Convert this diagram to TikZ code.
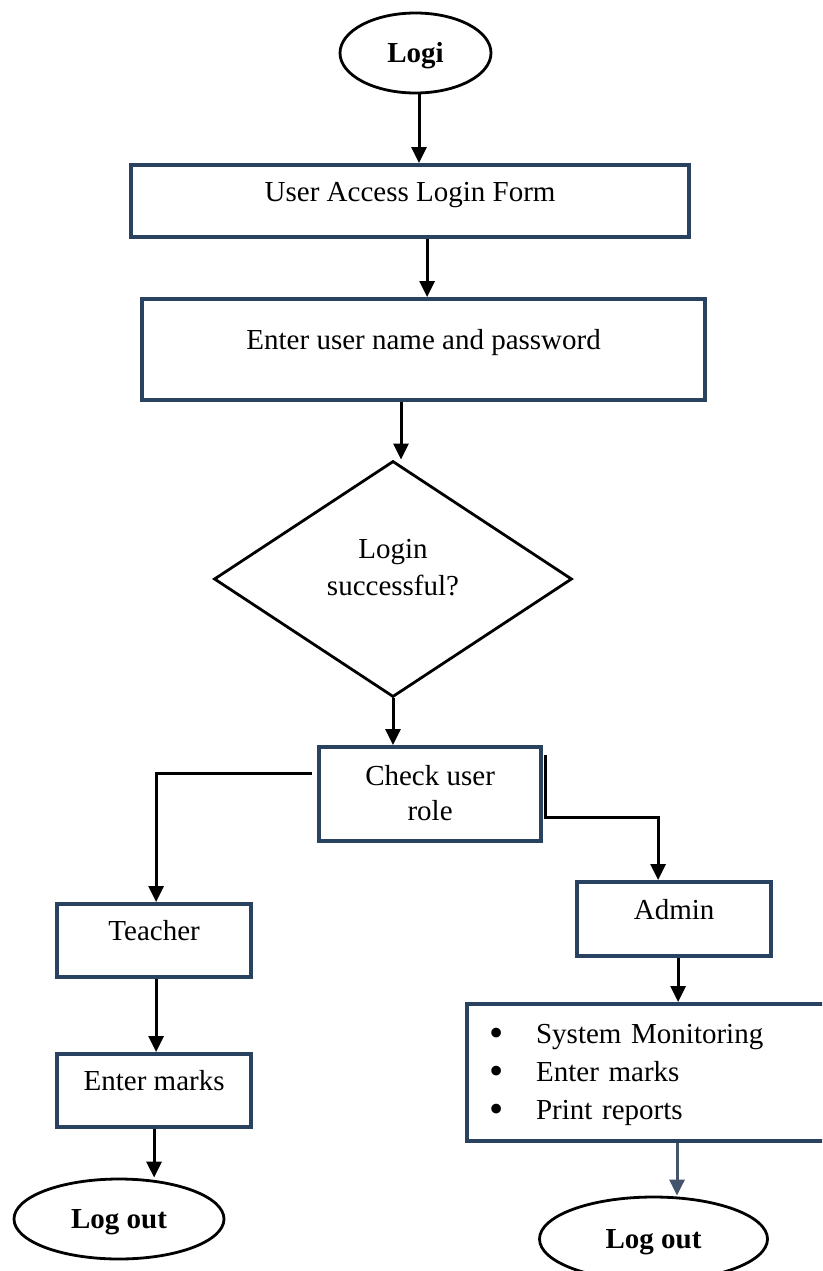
\documentclass[tikz,border=0pt]{standalone}
\usepackage{fontspec}
\usepackage{graphicx}
\setmainfont{Liberation Serif}
\usetikzlibrary{shapes.geometric,arrows.meta,calc}
\definecolor{boxblue}{RGB}{40,66,96}
\definecolor{slate}{RGB}{68,84,106}
\newcommand{\listdot}{\makebox[47pt][l]{\smash{\raisebox{-3.5pt}{\scalebox{1.4}{•}}}}}
\begin{document}
\begin{tikzpicture}[x=1pt,y=-1pt,
  box/.style={draw=boxblue, line width=4.2pt, rectangle, inner ysep=0pt, inner xsep=4pt,
    anchor=north west, align=center, font=\fontsize{29}{35}\selectfont},
  sz/.style n args={4}{minimum width=#1, minimum height=#2, text height=#3, text depth=#4},
  term/.style={draw, ellipse, line width=2.8pt, inner sep=0pt,
    font=\fontsize{29}{35}\selectfont\bfseries},
  decision/.style={draw, diamond, line width=2.8pt, inner sep=0pt, align=center,
    font=\fontsize{29}{37}\selectfont},
  arr/.style={line width=3pt, -{Triangle[length=16pt,width=15pt]}},
  arrgray/.style={arr, draw=slate, fill=slate}
]
\useasboundingbox (0,0) rectangle (822,1271);
\clip (0,0) rectangle (822,1271);

% terminators
\node[term, minimum width=151pt, minimum height=80pt, text height=20pt, text depth=0pt]
  (logi) at (415.5,53) {Logi};
\node[term, minimum width=210pt, minimum height=80pt, text height=20pt, text depth=2pt]
  (out1) at (119,1219) {Log out};
\node[term, minimum width=228pt, minimum height=84pt, text height=20pt, text depth=2pt]
  (out2) at (653.5,1239) {Log out};

% process boxes (text height = offset of the last baseline below the top edge)
\node[box, sz={558pt}{72pt}{36pt}{36pt}] (form) at (129,163) {User Access Login Form};
\node[box, sz={563pt}{101pt}{50pt}{51pt}] (cred) at (140,297) {Enter user name and password};
\node[decision, minimum width=358pt, minimum height=236pt, text height=40pt, text depth=8pt]
  (ok) at (393,579) {Login\\successful?};
\node[box, sz={222pt}{94pt}{73pt}{21pt}] (role) at (317,745) {Check user\\role};
\node[box, sz={194pt}{73pt}{36pt}{37pt}] (teach) at (55,902) {Teacher};
\node[box, sz={194pt}{73pt}{36pt}{37pt}] (marks) at (55,1052) {Enter marks};
\node[box, sz={194pt}{74pt}{37pt}{37pt}] (admin) at (575,880) {Admin};
\node[box, sz={435pt}{137pt}{39pt}{98pt}, text width=391pt, inner xsep=22pt, align=left,
  font=\fontsize{29}{38}\selectfont] (tasks) at (465,1002)
  {\listdot System Monitoring\\
   \listdot Enter marks\\
   \listdot Print reports};

% connectors
\draw[arr] ([xshift=3.5pt]logi.south) -- ([xshift=3.5pt]logi.south |- form.north);
\draw[arr] ([xshift=3.5pt]cred.north |- form.south) -- ([xshift=3.5pt]cred.north);
\draw[arr] ([xshift=8pt]ok.north |- cred.south) -- ([xshift=8pt]ok.north);
\draw[arr] (ok.south) -- (ok.south |- role.north);
\draw[arr] ($(role.north west)+(-5,28)$) -| ([xshift=2pt]teach.north);
\draw[arr] ($(role.north east)+(2,10)$) -- ($(role.north east)+(2,72)$)
  -| ([xshift=-16pt]admin.north);
\draw[arr] ([xshift=2pt]teach.south) -- ([xshift=2pt]marks.north);
\draw[arr] (marks.south) -- (marks.south |- out1.north);
\draw[arr] ([xshift=4pt]admin.south) -- ([xshift=4pt]admin.south |- tasks.north);
\draw[arrgray] ([xshift=23.5pt]out2.north |- tasks.south) -- ([xshift=23.5pt]out2.north);
\end{tikzpicture}
\end{document}
